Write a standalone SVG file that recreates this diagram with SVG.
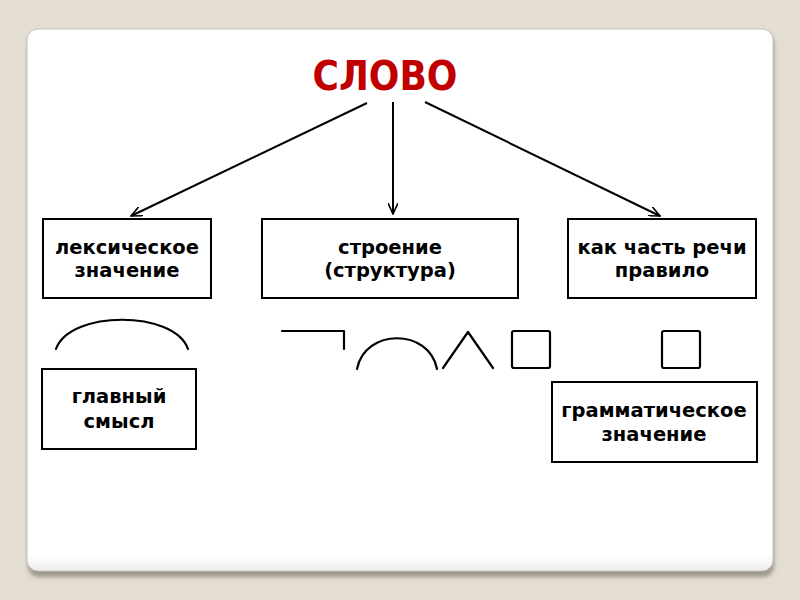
<svg xmlns="http://www.w3.org/2000/svg" width="800" height="600" viewBox="0 0 800 600">
<defs>
<linearGradient id="pg" x1="0" y1="0" x2="0" y2="1">
<stop offset="0.97" stop-color="#ffffff"/>
<stop offset="1" stop-color="#ececec"/>
</linearGradient>
<filter id="sh" x="-5%" y="-5%" width="110%" height="110%">
<feGaussianBlur stdDeviation="2"/>
</filter>
<marker id="arr" viewBox="0 0 12 10" refX="11" refY="5" markerWidth="12" markerHeight="10" markerUnits="userSpaceOnUse" orient="auto">
<path d="M0,0 L11,5 L0,10" fill="none" stroke="#000" stroke-width="1.6"/>
</marker>
<style>
.box{fill:#fff;stroke:#000;stroke-width:2}
.t{font-family:"DejaVu Sans",Verdana,sans-serif;font-weight:bold;font-size:19.5px;fill:#000;text-anchor:middle}
.ln{fill:none;stroke:#000;stroke-width:2.2;stroke-linecap:round;stroke-linejoin:round}
.c{fill:none;stroke:#000;stroke-width:2}
</style>
</defs>
<rect width="800" height="600" fill="#e3ddd2"/>
<rect x="28" y="33" width="746" height="544" rx="11" fill="#9c978e" filter="url(#sh)"/>
<rect x="27" y="29" width="746" height="542" rx="11" fill="url(#pg)" stroke="#c8c4bc" stroke-width="1"/>
<text x="385" y="90" font-family="'DejaVu Sans Condensed','DejaVu Sans',sans-serif" font-weight="bold" font-size="40" fill="#c00000" text-anchor="middle">СЛОВО</text>
<g id="connectors">
<line class="c" x1="367" y1="103" x2="131" y2="216" marker-end="url(#arr)"/>
<line class="c" x1="393" y1="102" x2="393" y2="214" marker-end="url(#arr)"/>
<line class="c" x1="425" y1="102" x2="660" y2="216" marker-end="url(#arr)"/>
</g>
<g id="n-lex">
<rect class="box" x="43" y="219" width="168" height="79"/>
<text class="t" x="127" y="254">лексическое</text>
<text class="t" x="127" y="277">значение</text>
</g>
<g id="n-str">
<rect class="box" x="262" y="219" width="256" height="79"/>
<text class="t" x="390" y="254">строение</text>
<text class="t" x="390" y="277">(структура)</text>
</g>
<g id="n-part">
<rect class="box" x="568" y="219" width="188" height="79"/>
<text class="t" x="662" y="254">как часть речи</text>
<text class="t" x="662" y="277">правило</text>
</g>
<g id="n-main">
<rect class="box" x="42" y="369" width="154" height="80"/>
<text class="t" x="119" y="403">главный</text>
<text class="t" x="119" y="428">смысл</text>
</g>
<g id="n-gram">
<rect class="box" x="552" y="382" width="205" height="80"/>
<text class="t" x="654" y="417">грамматическое</text>
<text class="t" x="654" y="441">значение</text>
</g>
<g id="morphemes">
<path class="ln" d="M56,349 C70,310 174,310 188,349"/>
<path class="ln" d="M282,331 H344 V349"/>
<path class="ln" d="M357,369 C365,328 429,328 437,369"/>
<path class="ln" d="M443,368 L468,332 L493,368"/>
<rect class="ln" x="512" y="331" width="38" height="37" rx="2"/>
<rect class="ln" x="662" y="331" width="38" height="37" rx="2"/>
</g>
</svg>
